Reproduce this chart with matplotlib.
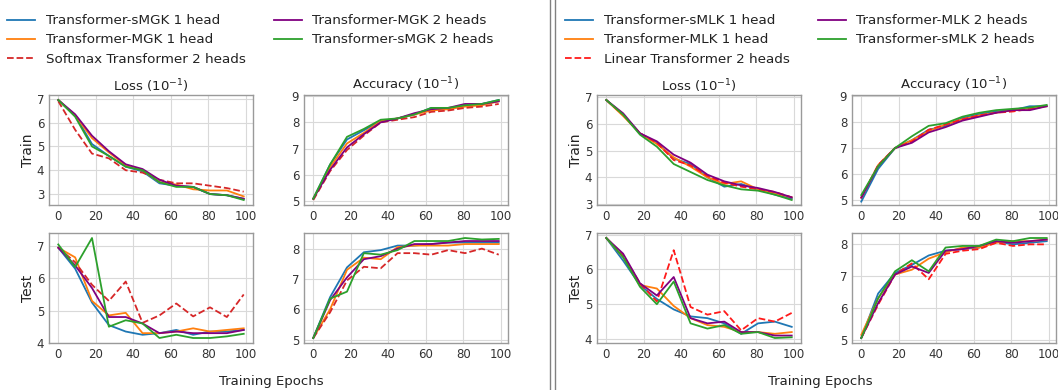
import matplotlib
matplotlib.use("Agg")
import matplotlib.pyplot as plt
from matplotlib.lines import Line2D
from matplotlib.ticker import MultipleLocator

epochs = [0, 9, 18, 27, 36, 45, 54, 63, 72, 81, 90, 99]

# ---- Left group (MGK) ----
mgk_labels = ["Transformer-sMGK 1 head", "Transformer-MGK 1 head",
              "Softmax Transformer 2 heads", "Transformer-MGK 2 heads",
              "Transformer-sMGK 2 heads"]

mgk_train_loss = {
    "sMGK1": [6.95, 6.3, 5.1, 4.6, 4.15, 3.95, 3.45, 3.35, 3.3, 3.0, 2.95, 2.8],
    "MGK1": [6.95, 6.3, 5.35, 4.75, 4.2, 4.0, 3.5, 3.4, 3.2, 3.15, 3.15, 2.9],
    "Softmax2": [6.9, 5.7, 4.7, 4.5, 4.0, 3.9, 3.6, 3.45, 3.45, 3.35, 3.25, 3.1],
    "MGK2": [6.95, 6.35, 5.45, 4.8, 4.25, 4.05, 3.6, 3.35, 3.3, 3.0, 2.95, 2.8],
    "sMGK2": [6.95, 6.25, 5.0, 4.6, 4.15, 4.0, 3.5, 3.3, 3.3, 3.0, 2.95, 2.75],
}
mgk_train_acc = {
    "sMGK1": [5.1, 6.4, 7.35, 7.7, 8.05, 8.15, 8.3, 8.55, 8.5, 8.65, 8.7, 8.85],
    "MGK1": [5.1, 6.3, 7.2, 7.6, 8.05, 8.15, 8.3, 8.45, 8.5, 8.6, 8.65, 8.8],
    "Softmax2": [5.05, 6.15, 6.95, 7.5, 8.0, 8.1, 8.2, 8.4, 8.45, 8.55, 8.6, 8.7],
    "MGK2": [5.1, 6.2, 7.05, 7.55, 8.0, 8.15, 8.35, 8.5, 8.55, 8.7, 8.7, 8.8],
    "sMGK2": [5.1, 6.4, 7.45, 7.75, 8.1, 8.15, 8.3, 8.55, 8.55, 8.65, 8.7, 8.85],
}
mgk_test_loss = {
    "sMGK1": [6.95, 6.3, 5.25, 4.55, 4.35, 4.25, 4.3, 4.4, 4.25, 4.35, 4.35, 4.4],
    "MGK1": [6.95, 6.65, 5.3, 4.85, 4.93, 4.3, 4.3, 4.35, 4.45, 4.35, 4.4, 4.45],
    "Softmax2": [6.95, 6.5, 5.8, 5.3, 5.9, 4.62, 4.85, 5.22, 4.82, 5.1, 4.8, 5.5],
    "MGK2": [6.95, 6.4, 5.7, 4.8, 4.8, 4.6, 4.3, 4.35, 4.3, 4.3, 4.3, 4.4],
    "sMGK2": [7.05, 6.35, 7.25, 4.5, 4.7, 4.6, 4.15, 4.25, 4.15, 4.15, 4.2, 4.28],
}
mgk_test_acc = {
    "sMGK1": [5.05, 6.4, 7.38, 7.88, 7.95, 8.1, 8.1, 8.15, 8.2, 8.2, 8.2, 8.2],
    "MGK1": [5.05, 6.0, 7.3, 7.7, 7.65, 8.05, 8.1, 8.1, 8.1, 8.15, 8.15, 8.15],
    "Softmax2": [5.05, 5.9, 6.95, 7.4, 7.35, 7.85, 7.85, 7.8, 7.95, 7.85, 8.0, 7.8],
    "MGK2": [5.05, 6.3, 7.05, 7.65, 7.75, 8.0, 8.15, 8.15, 8.2, 8.25, 8.25, 8.25],
    "sMGK2": [5.05, 6.35, 6.58, 7.85, 7.8, 7.95, 8.25, 8.25, 8.25, 8.35, 8.3, 8.32],
}

# ---- Right group (MLK) ----
mlk_labels = ["Transformer-sMLK 1 head", "Transformer-MLK 1 head",
              "Linear Transformer 2 heads", "Transformer-MLK 2 heads",
              "Transformer-sMLK 2 heads"]

mlk_train_loss = {
    "sMLK1": [6.9, 6.35, 5.65, 5.3, 4.7, 4.5, 4.0, 3.65, 3.75, 3.55, 3.35, 3.2],
    "MLK1": [6.9, 6.3, 5.65, 5.25, 4.75, 4.4, 4.0, 3.75, 3.85, 3.55, 3.4, 3.25],
    "Linear2": [6.9, 6.35, 5.65, 5.3, 4.65, 4.45, 4.05, 3.8, 3.65, 3.55, 3.45, 3.25],
    "MLK2": [6.9, 6.4, 5.65, 5.35, 4.85, 4.55, 4.1, 3.85, 3.7, 3.6, 3.45, 3.25],
    "sMLK2": [6.9, 6.35, 5.6, 5.15, 4.5, 4.2, 3.9, 3.7, 3.55, 3.5, 3.35, 3.15],
}
mlk_train_acc = {
    "sMLK1": [4.95, 6.2, 7.0, 7.3, 7.7, 7.85, 8.15, 8.3, 8.4, 8.45, 8.6, 8.6],
    "MLK1": [5.1, 6.35, 7.0, 7.3, 7.65, 7.9, 8.1, 8.25, 8.35, 8.45, 8.5, 8.6],
    "Linear2": [5.1, 6.35, 7.0, 7.25, 7.7, 7.9, 8.1, 8.25, 8.35, 8.4, 8.5, 8.6],
    "MLK2": [5.1, 6.3, 7.0, 7.2, 7.6, 7.8, 8.05, 8.2, 8.35, 8.45, 8.45, 8.6],
    "sMLK2": [5.2, 6.3, 7.0, 7.45, 7.85, 7.95, 8.2, 8.35, 8.45, 8.5, 8.55, 8.65],
}
mlk_test_loss = {
    "sMLK1": [6.9, 6.25, 5.55, 5.15, 4.85, 4.65, 4.6, 4.45, 4.15, 4.45, 4.5, 4.35],
    "MLK1": [6.9, 6.35, 5.55, 5.45, 4.95, 4.6, 4.4, 4.35, 4.2, 4.2, 4.15, 4.2],
    "Linear2": [6.9, 6.4, 5.6, 5.08, 6.55, 4.92, 4.7, 4.8, 4.25, 4.6, 4.5, 4.75],
    "MLK2": [6.9, 6.45, 5.6, 5.25, 5.78, 4.6, 4.45, 4.5, 4.2, 4.2, 4.1, 4.1],
    "sMLK2": [6.9, 6.35, 5.5, 5.0, 5.65, 4.45, 4.3, 4.4, 4.15, 4.2, 4.03, 4.05],
}
mlk_test_acc = {
    "sMLK1": [5.05, 6.45, 7.1, 7.35, 7.65, 7.8, 7.85, 7.9, 8.1, 8.0, 8.05, 8.1],
    "MLK1": [5.15, 6.3, 7.05, 7.2, 7.55, 7.75, 7.9, 7.9, 8.05, 8.1, 8.1, 8.15],
    "Linear2": [5.05, 6.1, 7.05, 7.4, 6.9, 7.7, 7.8, 7.85, 8.05, 7.95, 8.0, 8.0],
    "MLK2": [5.05, 6.15, 7.05, 7.3, 7.1, 7.8, 7.85, 7.95, 8.1, 8.05, 8.1, 8.15],
    "sMLK2": [5.05, 6.3, 7.15, 7.5, 7.15, 7.9, 7.95, 7.95, 8.15, 8.1, 8.2, 8.2],
}

mgk_keys = ["sMGK1", "MGK1", "Softmax2", "MGK2", "sMGK2"]
mlk_keys = ["sMLK1", "MLK1", "Linear2", "MLK2", "sMLK2"]
styles_left = [("#1f77b4", "-"), ("#ff7f0e", "-"), ("#d62728", "--"),
               ("#800080", "-"), ("#2ca02c", "-")]
styles_right = [("#1f77b4", "-"), ("#ff7f0e", "-"), ("#ff1a1a", "--"),
                ("#800080", "-"), ("#2ca02c", "-")]

W, H = 1058, 390
fig = plt.figure(figsize=(W / 100, H / 100), dpi=100)

def px_axes(x0, x1, y0, y1):
    return fig.add_axes([x0 / W, 1 - y1 / H, (x1 - x0) / W, (y1 - y0) / H])

def style_ax(ax):
    ax.set_facecolor("white")
    ax.grid(True, color="#d9d9d9", linewidth=0.8)
    ax.set_axisbelow(True)
    for s in ax.spines.values():
        s.set_color("#9a9a9a")
        s.set_linewidth(1.0)
    ax.tick_params(labelsize=8.5, colors="#333333", length=0, pad=3.5)
    ax.set_xticks([0, 20, 40, 60, 80, 100])
    ax.yaxis.set_major_locator(MultipleLocator(1))

def draw(ax, data, keys, styles):
    handles = []
    for k, (c, ls) in zip(keys, styles):
        h, = ax.plot(epochs, data[k], color=c, linestyle=ls, linewidth=1.3)
        handles.append(h)
    return handles

cols_x = [(49, 253), (304, 508), (597, 801), (852, 1056)]
row_train = (95, 205)
row_test = (233, 343)

groups = [
    (mgk_train_loss, mgk_train_acc, mgk_test_loss, mgk_test_acc, mgk_keys, styles_left, cols_x[0], cols_x[1]),
    (mlk_train_loss, mlk_train_acc, mlk_test_loss, mlk_test_acc, mlk_keys, styles_right, cols_x[2], cols_x[3]),
]

all_handles = []
acc_axes = []
for tl, ta, sl, sa, keys, sty, c1, c2 in groups:
    a1 = px_axes(c1[0], c1[1], *row_train)
    a2 = px_axes(c2[0], c2[1], *row_train)
    a3 = px_axes(c1[0], c1[1], *row_test)
    a4 = px_axes(c2[0], c2[1], *row_test)
    hs = draw(a1, tl, keys, sty)
    draw(a2, ta, keys, sty)
    draw(a3, sl, keys, sty)
    draw(a4, sa, keys, sty)
    for a in (a1, a2, a3, a4):
        style_ax(a)
    a1.set_title("Loss ($10^{-1}$)", fontsize=9.5, color="#222222", pad=3)
    a2.set_title("Accuracy ($10^{-1}$)", fontsize=9.5, color="#222222", pad=3)
    a1.set_ylabel("Train", fontsize=10, color="#222222", labelpad=1)
    a3.set_ylabel("Test", fontsize=10, color="#222222", labelpad=1)
    all_handles.append(hs)
    acc_axes.append(a2)

acc_axes[1].set_ylim(4.82, 9.03)

leg_kw = dict(ncol=2, frameon=False, fontsize=9.7, handlelength=2.05,
              handletextpad=0.8, columnspacing=2.1, labelspacing=0.45,
              borderaxespad=0, loc="upper left")
for t in fig.legend(all_handles[0], mgk_labels, bbox_to_anchor=(2 / W, 1 - 9 / H), **leg_kw).get_texts():
    t.set_color("#222222")
for t in fig.legend(all_handles[1], mlk_labels, bbox_to_anchor=(560 / W, 1 - 9 / H), **leg_kw).get_texts():
    t.set_color("#222222")

fig.text(271 / W, 1 - 382 / H, "Training Epochs", ha="center", va="center",
         fontsize=9.5, color="#222222")
fig.text(820 / W, 1 - 382 / H, "Training Epochs", ha="center", va="center",
         fontsize=9.5, color="#222222")

for xp in (549.5, 554.5):
    fig.add_artist(Line2D([xp / W, xp / W], [0, 1], transform=fig.transFigure,
                          color="#808080", linewidth=1.0))

fig.savefig("out.png", dpi=100)
